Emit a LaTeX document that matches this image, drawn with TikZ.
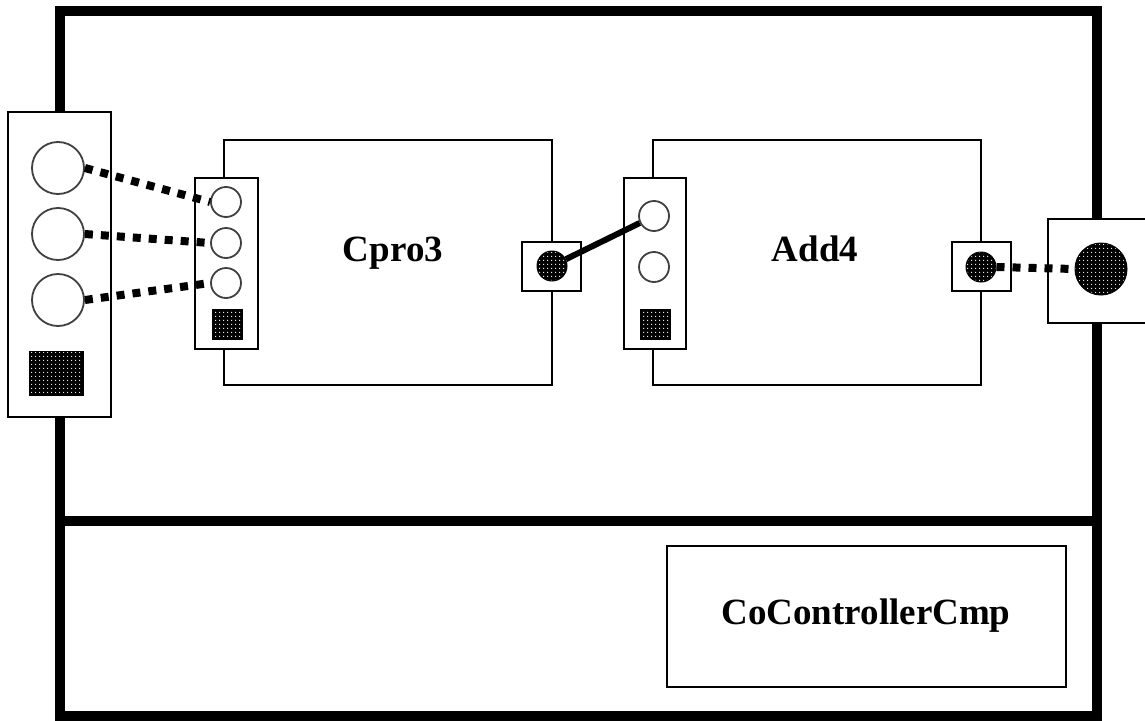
\documentclass[tikz,border=0pt]{standalone}
\usepackage{fontspec}
\setmainfont{Liberation Serif}
\usetikzlibrary{patterns.meta}
\begin{document}
\begin{tikzpicture}[x=1pt,y=-1pt,
  box/.style={draw=black, line width=2.2pt, fill=white, rectangle, inner sep=0pt},
  portbox/.style={draw=black, line width=2pt, fill=white, rectangle, inner sep=0pt},
  hole/.style={draw=black!75, line width=1.8pt, fill=white, circle, inner sep=0pt},
  dotted fill/.style={preaction={fill=black}, pattern={Dots[distance=4pt, radius=0.75pt]}, pattern color=white},
  dotcircle/.style={circle, inner sep=0pt, draw=black, line width=1pt, dotted fill},
  dotsquare/.style={rectangle, inner sep=0pt, draw=black, line width=1pt, dotted fill},
  lbl/.style={font=\fontsize{37}{40}\selectfont\bfseries, inner sep=0pt, anchor=base},
  dotlink/.style={line width=8pt, dash pattern=on 8pt off 8pt},
  solidlink/.style={line width=6pt}
]
\useasboundingbox (0,0) rectangle (1145,720);
% outer frame
\draw[line width=10pt] (60,11) rectangle (1097,716);
\draw[line width=10pt] (60,521) -- (1097,521);

% left outer port box
\node[portbox, minimum width=103pt, minimum height=305pt] (lp) at (59.5,264.5) {};
\node[hole, minimum size=52pt] (lc1) at (58,168) {};
\node[hole, minimum size=52pt] (lc2) at (58,234) {};
\node[hole, minimum size=52pt] (lc3) at (58,300) {};
\node[dotsquare, minimum width=54pt, minimum height=44pt] (lsq) at (56,373) {};

% right outer port box
\node[portbox, minimum width=102pt, minimum height=104pt] (rp) at (1099,271) {};
\node[dotcircle, minimum size=52pt] (rpc) at (1101,269) {};

% Cpro3
\node[box, minimum width=328pt, minimum height=245pt] (cpro) at (388,262.5) {};
\node[lbl] (cprolbl) at (393,261) {Cpro3};
\node[portbox, minimum width=63pt, minimum height=171pt] (cin) at (226.5,263.5) {};
\node[hole, minimum size=30pt] (cc1) at (226,202) {};
\node[hole, minimum size=30pt] (cc2) at (226,243) {};
\node[hole, minimum size=30pt] (cc3) at (226,283) {};
\node[dotsquare, minimum size=30pt] (csq) at (227,324) {};
\node[portbox, minimum width=59pt, minimum height=49pt] (cout) at (551.5,266.5) {};
\node[dotcircle, minimum size=30pt] (cof) at (552,266) {};

% Add4
\node[box, minimum width=328pt, minimum height=245pt] (add) at (817,262.5) {};
\node[lbl] (addlbl) at (815,261) {Add4};
\node[portbox, minimum width=62pt, minimum height=171pt] (ain) at (655,263.5) {};
\node[hole, minimum size=30pt] (ac1) at (654,216) {};
\node[hole, minimum size=30pt] (ac2) at (654,267) {};
\node[dotsquare, minimum size=30pt] (asq) at (655,324) {};
\node[portbox, minimum width=59pt, minimum height=49pt] (aout) at (981.5,266.5) {};
\node[dotcircle, minimum size=30pt] (aof) at (981,267) {};

% controller
\node[box, minimum width=399pt, minimum height=141pt] (ctrl) at (866.5,616.5) {};
\node[lbl] (ctrllbl) at (866,624) {CoControllerCmp};

% connectors
\draw[dotlink] (lc1.east) -- (cc1.west);
\draw[dotlink] (lc2.east) -- (cc2.west);
\draw[dotlink] (lc3.east) -- (cc3.west);
\draw[solidlink] (cof) -- (ac1);
\draw[dotlink] (aof.east) -- (rpc.west);
\end{tikzpicture}
\end{document}
